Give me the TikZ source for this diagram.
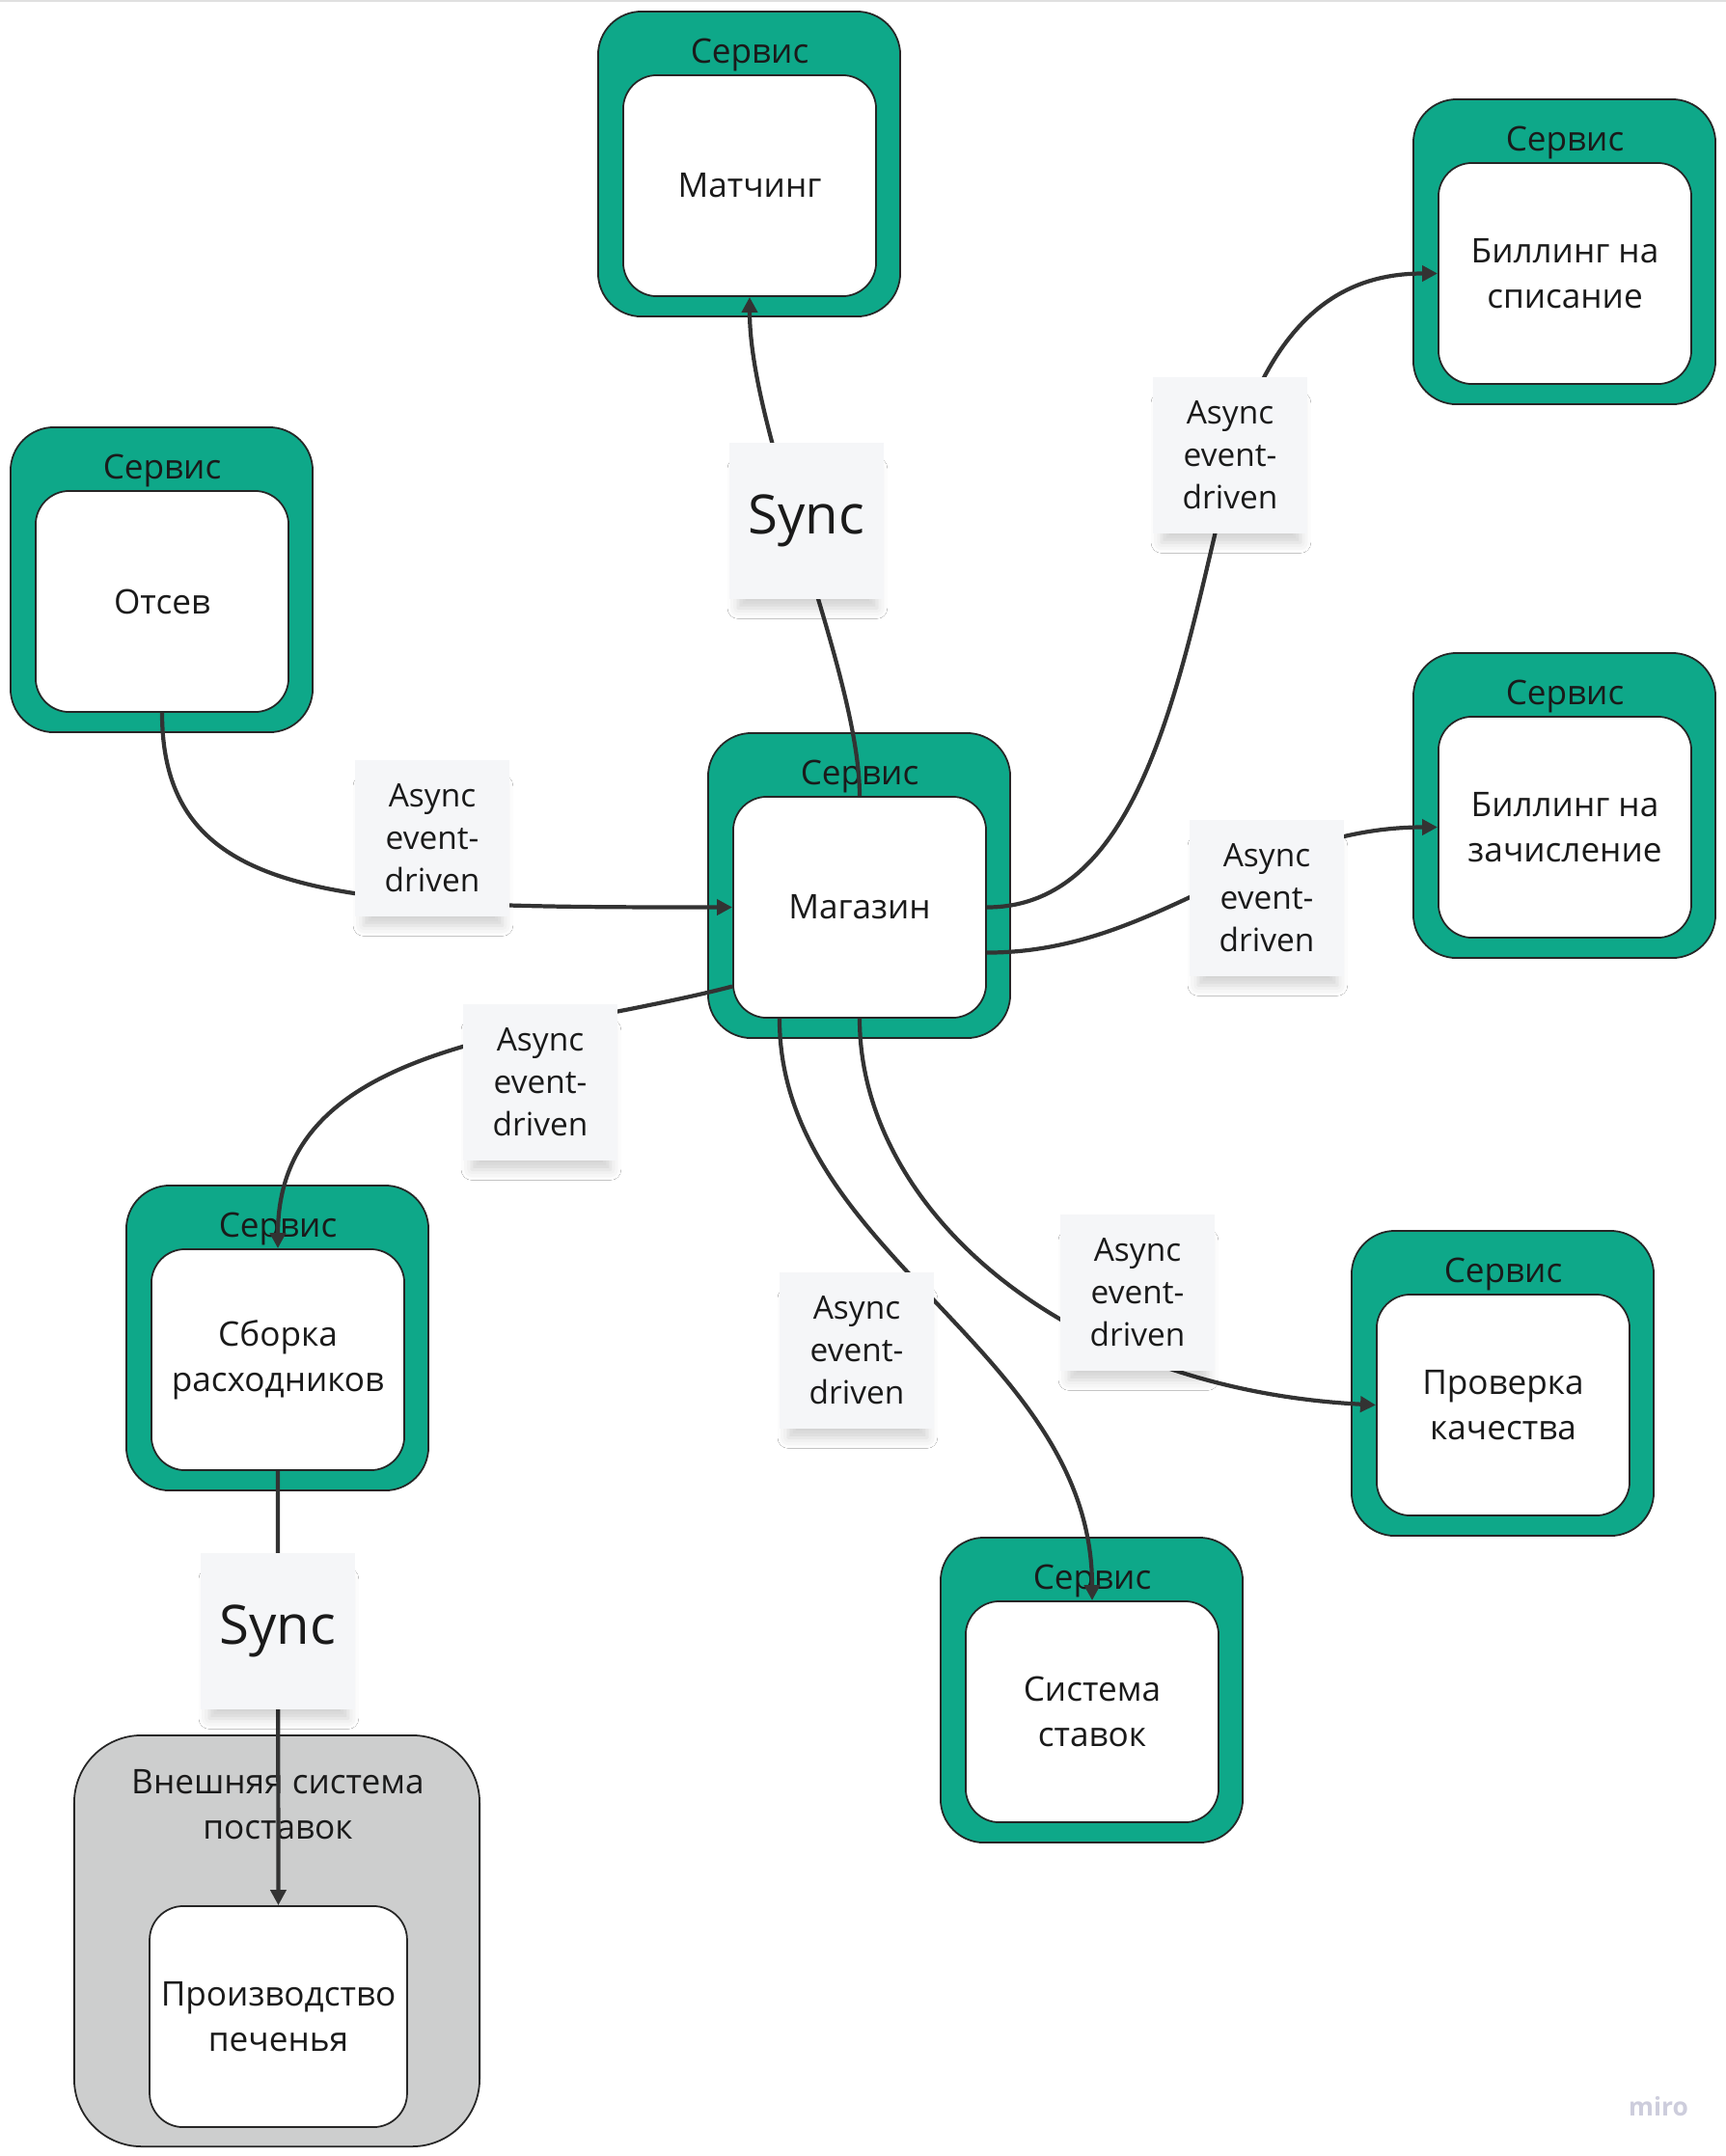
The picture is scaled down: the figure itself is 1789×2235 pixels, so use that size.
\documentclass[tikz,border=0pt]{standalone}
\usepackage{fontspec}
\setmainfont{Open Sans}
\usetikzlibrary{arrows.meta}
\usetikzlibrary{shadows.blur}
\usetikzlibrary{calc}
\definecolor{servicegreen}{RGB}{14,168,137}
\definecolor{linegray}{RGB}{51,51,51}
\definecolor{notegray}{RGB}{245,246,248}
\definecolor{extgray}{RGB}{205,206,206}
\definecolor{textblack}{RGB}{26,26,26}
\definecolor{mirogray}{RGB}{205,205,220}
\tikzset{servicebox/.style = {draw=black!85, fill=servicegreen, line width=0.5pt,
                              rounded corners=0.45cm, minimum width=3.13cm,
                              minimum height=3.16cm, inner sep=0pt},
         extbox/.style = {servicebox, fill=extgray, rounded corners=0.7cm,
                          minimum width=4.2cm, minimum height=4.26cm},
         servicecore/.style = {draw=black!85, fill=white, line width=0.5pt,
                               rounded corners=0.35cm, minimum width=2.62cm,
                               minimum height=2.29cm, align=center, text=textblack,
                               font=\fontsize{10}{13.4}\selectfont},
         servicetag/.style = {align=center, text=textblack,
                              font=\fontsize{10}{13.4}\selectfont},
         sticky/.style = {fill=notegray, minimum width=1.6cm, minimum height=1.61cm,
                          align=center, text=textblack,
                          blur shadow={shadow xshift=0.01cm, shadow yshift=-0.2cm,
                                       shadow scale=0.9, shadow opacity=18,
                                       shadow blur radius=0.12cm}},
         asyncnote/.style = {sticky, font=\fontsize{9.5}{12.5}\selectfont},
         syncnote/.style = {sticky, font=\fontsize{16}{19}\selectfont},
         flow/.style = {draw=linegray, line width=1.2pt,
                        -{Triangle[length=0.16cm, width=0.16cm]}}}

\begin{document}
\begin{tikzpicture}[x=0.01cm, y=-0.01cm]
  \useasboundingbox (0,0) rectangle (1789,2235);
  \fill [white] (0,0) rectangle (1789,2235);
  \draw [black!12] (0,1) -- (1789,1);

  % services
  \foreach \name/\x/\y/\txt in {matching/620/12/{Матчинг},
                                billspis/1465/103/{Биллинг на\\списание},
                                otsev/11/443/{Отсев},
                                magazin/734/760/{Магазин},
                                billzach/1465/677/{Биллинг на\\зачисление},
                                sborka/131/1229/{Сборка\\расходников},
                                kachestvo/1401/1276/{Проверка\\качества},
                                stavki/975/1594/{Система\\ставок}} {
    \node [servicebox] (\name-out) at (\x+156.5, \y+158) {};
    \node [servicecore] (\name) at (\x+157, \y+180.5) {\txt};
    \node [servicetag] (\name-tag) at (\x+157, \y+45) {Сервис};
  }

  % external system
  \node [extbox] (supply-out) at (287,2012) {};
  \node [servicecore] (proizv) at (288.5,2090.5) {Производство\\печенья};
  \node [servicetag] (supply-tag) at (288,1871) {Внешняя система\\поставок};

  % connectors
  \draw [flow] (magazin.north) .. controls +(0,-127) and +(0,143) .. (matching.south);
  \draw [flow] (otsev.south) .. controls +(0,200) and +(-400,0) .. (magazin.west);
  \coordinate (bend-spis) at (1285,450);
  \draw [flow] (magazin.east) .. controls +(177,0) and +(-55,200) .. (bend-spis)
                              .. controls +(45,-130) and +(-91,0) .. (billspis.west);
  \draw [flow] ([yshift=-0.47cm]magazin.east) .. controls +(177,0) and +(-191,0) .. (billzach.west);
  \draw [flow] ([yshift=-0.82cm]magazin.west) .. controls +(-200,52) and +(0,-216) .. (sborka.north);
  \draw [flow] ([xshift=-0.83cm]magazin.south) .. controls +(0,245) and +(0,-260) .. (stavki.north);
  \draw [flow] (magazin.south) .. controls +(0,195) and +(-327,-17) .. (kachestvo.west);
  \draw [flow] (sborka.south) -- (proizv.north);

  % notes
  \node [syncnote] (sync-up) at (836,540) {Sync};
  \node [asyncnote] (async-spis) at (1275,472) {Async\\event-\\driven};
  \node [asyncnote] (async-otsev) at (448,869) {Async\\event-\\driven};
  \node [asyncnote] (async-zach) at (1313,931) {Async\\event-\\driven};
  \node [asyncnote] (async-sborka) at (560,1122) {Async\\event-\\driven};
  \node [asyncnote] (async-stavki) at (888,1400) {Async\\event-\\driven};
  \node [asyncnote] (async-kach) at (1179,1340) {Async\\event-\\driven};
  \node [syncnote] (sync-down) at (288,1691) {Sync};

  \node [text=mirogray, font=\fontsize{7.5}{9}\selectfont\bfseries] (miro-mark) at (1719,2184) {miro};
\end{tikzpicture}
\end{document}
